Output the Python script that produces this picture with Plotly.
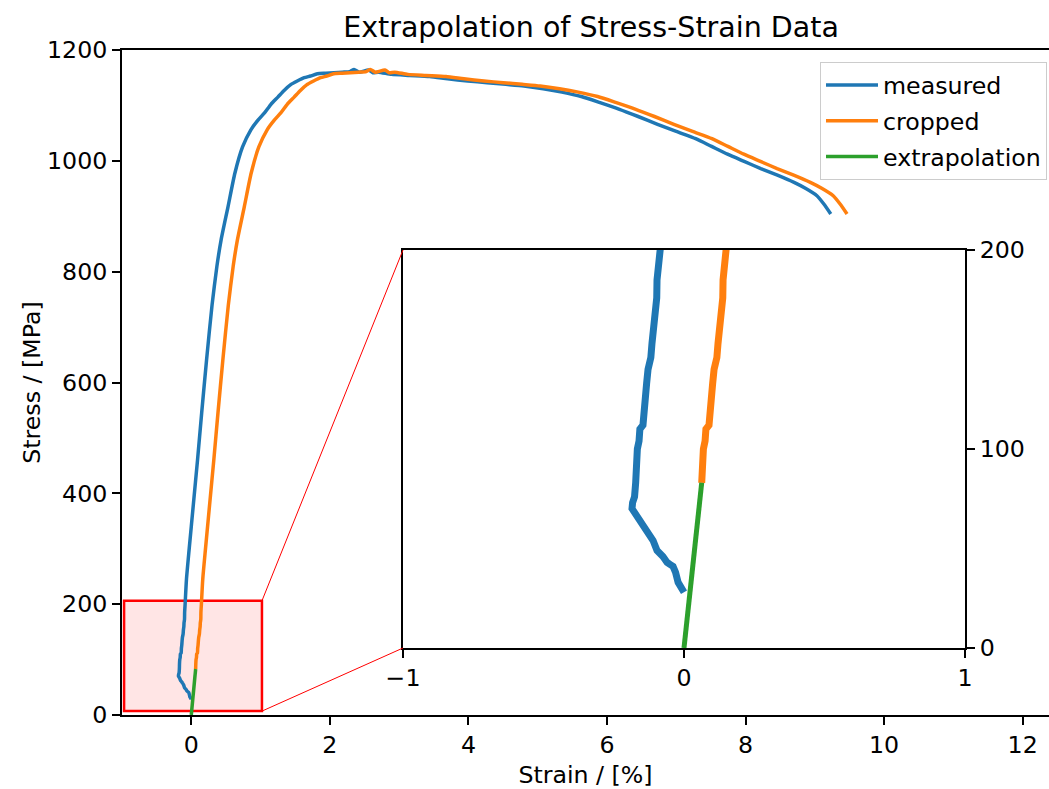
import plotly.graph_objects as go

# ---------------- data ----------------
measured_strain = [0.000, -0.010, -0.021, -0.030, -0.039, -0.050, -0.060, -0.075, -0.096, -0.110,
                   -0.128, -0.140, -0.157, -0.170, -0.185, -0.183, -0.176, -0.172, -0.170, -0.166,
                   -0.160, -0.157, -0.146, -0.143, -0.137, -0.133, -0.128, -0.118, -0.114, -0.107,
                   -0.105, -0.098, -0.097, -0.096, -0.093, -0.089, -0.070, -0.030, 0.030, 0.090,
                   0.150, 0.220, 0.300, 0.370, 0.430, 0.530, 0.630, 0.740, 0.860, 0.960,
                   1.060, 1.150, 1.250, 1.340, 1.430, 1.530, 1.630, 1.720, 1.820, 1.940,
                   2.060, 2.180, 2.290, 2.350, 2.420, 2.560, 2.620, 2.700, 2.890, 3.150,
                   3.440, 3.700, 3.990, 4.270, 4.540, 4.800, 5.080, 5.350, 5.630, 5.900,
                   6.180, 6.450, 6.730, 7.000, 7.280, 7.510, 7.740, 7.980, 8.220, 8.460,
                   8.700, 8.870, 9.030, 9.130, 9.230]
measured_stress = [28, 31, 33, 38, 41, 42, 43, 46, 49, 54,
                   58, 60, 63, 67, 70, 73, 76, 83, 92, 100,
                   104, 110, 112, 120, 126, 133, 140, 146, 153, 160,
                   166, 172, 176, 185, 192, 200, 244, 300, 380, 460,
                   545, 640, 740, 810, 857, 917, 978, 1025, 1056, 1073,
                   1087, 1102, 1115, 1127, 1137, 1144, 1150, 1153, 1157, 1158,
                   1159, 1160, 1161, 1165, 1160, 1164, 1159, 1160, 1156, 1154,
                   1152, 1148, 1144, 1141, 1138, 1135, 1130, 1124, 1116, 1105,
                   1093, 1080, 1066, 1053, 1040, 1026, 1012, 999, 986, 974,
                   961, 950, 937, 922, 904]

cropped_strain = [0.063, 0.065, 0.069, 0.075, 0.078, 0.089, 0.092, 0.098, 0.102, 0.107,
                  0.117, 0.121, 0.128, 0.130, 0.137, 0.138, 0.139, 0.142, 0.146, 0.165,
                  0.205, 0.265, 0.325, 0.385, 0.455, 0.535, 0.605, 0.665, 0.765, 0.865,
                  0.975, 1.095, 1.195, 1.295, 1.385, 1.485, 1.575, 1.665, 1.765, 1.865,
                  1.955, 2.055, 2.175, 2.295, 2.415, 2.525, 2.585, 2.655, 2.795, 2.855,
                  2.935, 3.125, 3.385, 3.675, 3.935, 4.225, 4.505, 4.775, 5.035, 5.315,
                  5.585, 5.865, 6.135, 6.415, 6.685, 6.965, 7.235, 7.515, 7.745, 7.975,
                  8.215, 8.455, 8.695, 8.935, 9.105, 9.265, 9.365, 9.465]
cropped_stress = [83, 92, 100, 104, 110, 112, 120, 126, 133, 140,
                  146, 153, 160, 166, 172, 176, 185, 192, 200, 244,
                  300, 380, 460, 545, 640, 740, 810, 857, 917, 978,
                  1025, 1056, 1073, 1087, 1102, 1115, 1127, 1137, 1144, 1150,
                  1153, 1157, 1158, 1159, 1160, 1161, 1165, 1160, 1164, 1159,
                  1160, 1156, 1154, 1152, 1148, 1144, 1141, 1138, 1135, 1130,
                  1124, 1116, 1105, 1093, 1080, 1066, 1053, 1040, 1026, 1012,
                  999, 986, 974, 961, 950, 937, 922, 904]

extrap_strain = [0.0, 0.063]
extrap_stress = [0.0, 83]

series_names = ["measured", "cropped", "extrapolation"]
main_xticks = [0, 2, 4, 6, 8, 10, 12]
main_yticks = [0, 200, 400, 600, 800, 1000, 1200]
inset_xticks = [-1, 0, 1]
inset_xticklabels = ["\u22121", "0", "1"]
inset_yticks = [0, 100, 200]
zoom_box = dict(x0=-0.97, x1=1.02, y0=7, y1=206)

# ---------------- styling ----------------
BLUE, ORANGE, GREEN = "#1f77b4", "#ff7f0e", "#2ca02c"
FONT = "DejaVu Sans"
FS = 23.7
W, H = 1049, 789
ML, MR, MT, MB = 122, 0, 50, 74
X_RANGE = [-1, 12.38]
Y_RANGE = [0, 1200]
INSET_X = [-1, 1]
INSET_Y = [0, 200]
PW = W - ML - MR
PH = H - MT - MB
inset_dom_x = [(403 - ML) / PW, (965 - ML) / PW]
inset_dom_y = [(H - MB - 648) / PH, (H - MB - 250) / PH]

fig = go.Figure()
colors = [BLUE, ORANGE, GREEN]
data = [(measured_strain, measured_stress), (cropped_strain, cropped_stress), (extrap_strain, extrap_stress)]
for (xs, ys), name, c in zip(data, series_names, colors):
    fig.add_trace(go.Scatter(x=xs, y=ys, mode="lines", name=name, legendgroup=name,
                             line=dict(color=c, width=3.5, shape="spline", smoothing=0.6),
                             xaxis="x", yaxis="y"))
for (xs, ys), name, c in zip(data, series_names, colors):
    fig.add_trace(go.Scatter(x=xs, y=ys, mode="lines", name=name, showlegend=False,
                             line=dict(color=c, width=5 if c == GREEN else 7),
                             xaxis="x2", yaxis="y2"))

# zoom rectangle
fig.add_shape(type="rect", xref="x", yref="y", layer="below", **zoom_box,
              line=dict(color="red", width=2.5), fillcolor="rgba(255,0,0,0.1)")

# connector lines: from the zoom box corners to the inset corners (in main data coords)
def dom_to_x(f):
    return X_RANGE[0] + f * (X_RANGE[1] - X_RANGE[0])

def dom_to_y(f):
    return Y_RANGE[0] + f * (Y_RANGE[1] - Y_RANGE[0])

fig.add_shape(type="line", xref="x", yref="y", x0=zoom_box["x1"], y0=zoom_box["y1"],
              x1=dom_to_x(inset_dom_x[0]), y1=dom_to_y(inset_dom_y[1]),
              line=dict(color="red", width=1))
fig.add_shape(type="line", xref="x", yref="y", x0=zoom_box["x1"], y0=zoom_box["y0"],
              x1=dom_to_x(inset_dom_x[0]), y1=dom_to_y(inset_dom_y[0]),
              line=dict(color="red", width=1))

axis_common = dict(showgrid=False, zeroline=False, showline=True, linecolor="black",
                   linewidth=1.9, ticks="outside", ticklen=8, tickwidth=1.9, tickcolor="black",
                   automargin=False,
                   tickfont=dict(family=FONT, size=FS, color="black"))

fig.update_layout(
    width=W, height=H,
    margin=dict(l=ML, r=MR, t=MT, b=MB, autoexpand=False),
    paper_bgcolor="white", plot_bgcolor="white",
    font=dict(family=FONT, size=FS, color="black"),
    title=dict(text="Extrapolation of Stress-Strain Data", x=591 / W, xref="container",
               xanchor="center", y=1 - 27 / H, yref="container", yanchor="middle",
               font=dict(family=FONT, size=28.5, color="black")),
    xaxis=dict(range=X_RANGE, tickvals=main_xticks, mirror=True,
               title=dict(text="Strain / [%]", font=dict(family=FONT, size=FS), standoff=8),
               **axis_common),
    yaxis=dict(range=Y_RANGE, tickvals=main_yticks,
               title=dict(text="Stress / [MPa]", font=dict(family=FONT, size=FS), standoff=0),
               **axis_common),
    xaxis2=dict(domain=inset_dom_x, anchor="y2", range=INSET_X, tickvals=inset_xticks,
                ticktext=inset_xticklabels, mirror=True, **axis_common),
    yaxis2=dict(domain=inset_dom_y, anchor="x2", range=INSET_Y, tickvals=inset_yticks,
                side="right", mirror=True, **axis_common),
    legend=dict(x=(1047 - ML) / PW, xanchor="right",
                y=(H - MB - 62) / PH, yanchor="top",
                bgcolor="rgba(255,255,255,0.8)", bordercolor="#cccccc", borderwidth=1,
                font=dict(family=FONT, size=FS, color="black"),
                traceorder="grouped", tracegroupgap=2, itemwidth=52),
    showlegend=True,
)

fig.write_html("out.html")
